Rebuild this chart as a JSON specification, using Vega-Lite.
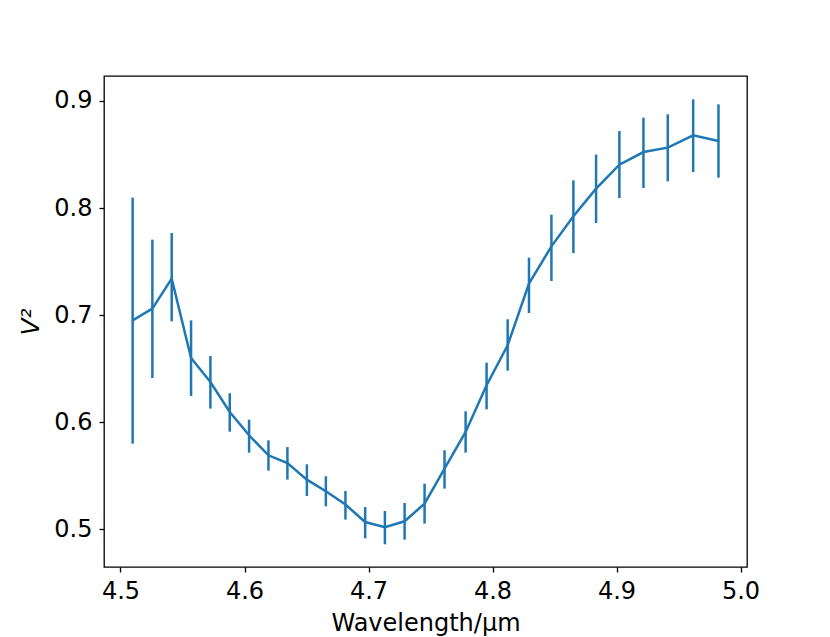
{
  "$schema": "https://vega.github.io/schema/vega-lite/v6.json",
  "width": 643,
  "height": 491,
  "autosize": {"type": "none"},
  "padding": {"left": 104, "top": 76, "right": 83, "bottom": 70},
  "background": "white",
  "data": {
    "values": [
      {"w": 4.5098, "v2": 0.6951, "lo": 0.5800, "hi": 0.8097},
      {"w": 4.5257, "v2": 0.7061, "lo": 0.6413, "hi": 0.7705},
      {"w": 4.5413, "v2": 0.7341, "lo": 0.6942, "hi": 0.7767},
      {"w": 4.5569, "v2": 0.6600, "lo": 0.6245, "hi": 0.6951},
      {"w": 4.5725, "v2": 0.6376, "lo": 0.6127, "hi": 0.6618},
      {"w": 4.5881, "v2": 0.6095, "lo": 0.5912, "hi": 0.6270},
      {"w": 4.6037, "v2": 0.5878, "lo": 0.5716, "hi": 0.6024},
      {"w": 4.6193, "v2": 0.5691, "lo": 0.5548, "hi": 0.5831},
      {"w": 4.6346, "v2": 0.5619, "lo": 0.5464, "hi": 0.5768},
      {"w": 4.6503, "v2": 0.5464, "lo": 0.5311, "hi": 0.5607},
      {"w": 4.6656, "v2": 0.5355, "lo": 0.5215, "hi": 0.5495},
      {"w": 4.6814, "v2": 0.5231, "lo": 0.5091, "hi": 0.5358},
      {"w": 4.6973, "v2": 0.5068, "lo": 0.4916, "hi": 0.5208},
      {"w": 4.7132, "v2": 0.5019, "lo": 0.4860, "hi": 0.5171},
      {"w": 4.7291, "v2": 0.5075, "lo": 0.4904, "hi": 0.5246},
      {"w": 4.7452, "v2": 0.5240, "lo": 0.5053, "hi": 0.5427},
      {"w": 4.7613, "v2": 0.5567, "lo": 0.5380, "hi": 0.5738},
      {"w": 4.7783, "v2": 0.5909, "lo": 0.5716, "hi": 0.6102},
      {"w": 4.7952, "v2": 0.6345, "lo": 0.6120, "hi": 0.6556},
      {"w": 4.8122, "v2": 0.6718, "lo": 0.6481, "hi": 0.6961},
      {"w": 4.8294, "v2": 0.7294, "lo": 0.7020, "hi": 0.7537},
      {"w": 4.8475, "v2": 0.7642, "lo": 0.7319, "hi": 0.7938},
      {"w": 4.8652, "v2": 0.7923, "lo": 0.7580, "hi": 0.8259},
      {"w": 4.8835, "v2": 0.8181, "lo": 0.7860, "hi": 0.8499},
      {"w": 4.9023, "v2": 0.8405, "lo": 0.8093, "hi": 0.8719},
      {"w": 4.9217, "v2": 0.8523, "lo": 0.8187, "hi": 0.8844},
      {"w": 4.9413, "v2": 0.8564, "lo": 0.8249, "hi": 0.8875},
      {"w": 4.9618, "v2": 0.8679, "lo": 0.8336, "hi": 0.9015},
      {"w": 4.9822, "v2": 0.8626, "lo": 0.8284, "hi": 0.8968}
    ]
  },
  "encoding": {
    "x": {
      "field": "w",
      "type": "quantitative",
      "title": "Wavelength/μm",
      "scale": {"domain": [4.4867, 5.0052], "nice": false, "zero": false},
      "axis": {"values": [4.5, 4.6, 4.7, 4.8, 4.9, 5.0], "format": ".1f", "titlePadding": 8}
    }
  },
  "layer": [
    {
      "mark": {"type": "rule", "color": "#1f77b4", "strokeWidth": 2.5},
      "encoding": {
        "y": {"field": "lo", "type": "quantitative"},
        "y2": {"field": "hi"}
      }
    },
    {
      "mark": {"type": "line", "color": "#1f77b4", "strokeWidth": 2.5},
      "encoding": {
        "y": {
          "field": "v2",
          "type": "quantitative",
          "title": "V²",
          "scale": {"domain": [0.4648, 0.9233], "nice": false, "zero": false},
          "axis": {"values": [0.5, 0.6, 0.7, 0.8, 0.9], "format": ".1f", "titleFontStyle": "italic", "titlePadding": 10, "titleFontSize": 25}
        }
      }
    }
  ],
  "config": {
    "font": "DejaVu Sans",
    "view": {"stroke": "#000", "strokeWidth": 1.3},
    "axis": {
      "grid": false,
      "domain": false,
      "ticks": true,
      "tickColor": "#000",
      "tickWidth": 1.3,
      "tickSize": 5,
      "labelPadding": 7,
      "labelFont": "DejaVu Sans",
      "labelFontSize": 24,
      "labelColor": "#000",
      "titleFont": "DejaVu Sans",
      "titleFontSize": 24,
      "titleFontWeight": "normal",
      "titleColor": "#000"
    }
  }
}
